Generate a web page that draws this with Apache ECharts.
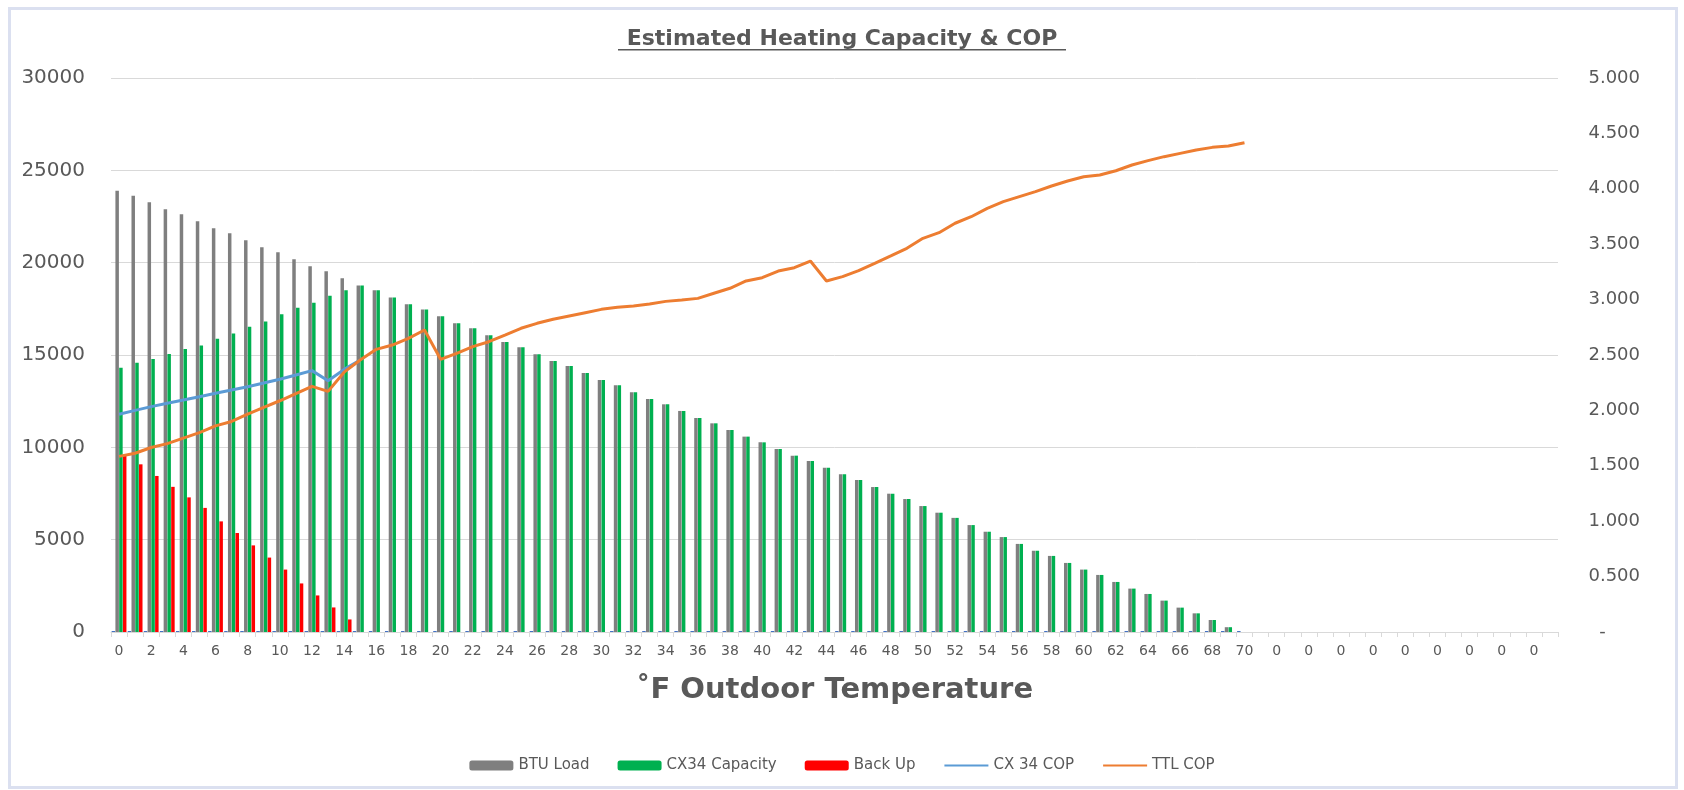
<!DOCTYPE html>
<html>
<head>
<meta charset="utf-8">
<script src="https://cdn.jsdelivr.net/npm/echarts@6/dist/echarts.min.js"></script>
<style>
  html, body { margin: 0; padding: 0; background: #fff; }
  #main { position: absolute; left: 0; top: 0; width: 1684px; height: 790px; }
  #frame { position: absolute; left: 8px; top: 7px; width: 1670px; height: 782px;
           box-sizing: border-box; border: 3px solid #dbe0f0; pointer-events: none; }
</style>
</head>
<body>
<div id="main"></div>
<div id="frame"></div>
<script>
  // temperature categories, the sheet pads the range with empty "0" rows
  var categories = ['0','1','2','3','4','5','6','7','8','9','10','11','12','13','14','15','16','17','18','19',
    '20','21','22','23','24','25','26','27','28','29','30','31','32','33','34','35','36','37','38','39',
    '40','41','42','43','44','45','46','47','48','49','50','51','52','53','54','55','56','57','58','59',
    '60','61','62','63','64','65','66','67','68','69','70',
    '0','0','0','0','0','0','0','0','0','0','0','0','0','0','0','0','0','0','0'];

  var btuLoad = [23900,23630,23270,22890,22620,22240,21860,21590,21210,20830,
    20560,20180,19800,19530,19150,18770,18500,18120,17750,17470,
    17100,16720,16450,16070,15700,15420,15040,14680,14400,14020,
    13650,13360,12980,12620,12330,11970,11590,11300,10940,10580,
    10270,9910,9550,9260,8900,8540,8230,7850,7490,7200,
    6820,6460,6180,5790,5430,5140,4770,4400,4120,3740,
    3380,3090,2710,2350,2060,1700,1320,1010,650,260,0];

  var cx34Capacity = [14310,14580,14780,15050,15320,15520,15880,16170,16530,16820,
    17200,17560,17830,18210,18500,18770,18500,18120,17750,17470,
    17100,16720,16450,16070,15700,15420,15040,14680,14400,14020,
    13650,13360,12980,12620,12330,11970,11590,11300,10940,10580,
    10270,9910,9550,9260,8900,8540,8230,7850,7490,7200,
    6820,6460,6180,5790,5430,5140,4770,4400,4120,3740,
    3380,3090,2710,2350,2060,1700,1320,1010,650,260,0];

  var backUp = [9590,9080,8450,7860,7290,6720,5990,5360,4690,4030,3380,2630,1980,1330,680];

  var cx34Cop = [1.965,2.000,2.034,2.064,2.094,2.124,2.154,2.184,2.214,2.248,
    2.281,2.320,2.359,2.268,2.370,2.455];

  var ttlCop = [1.585,1.613,1.665,1.700,1.750,1.800,1.860,1.900,1.966,2.027,
    2.087,2.151,2.217,2.172,2.345,2.455,2.551,2.590,2.650,2.726,
    2.461,2.515,2.575,2.620,2.680,2.741,2.786,2.822,2.852,2.882,
    2.912,2.930,2.942,2.960,2.984,2.996,3.011,3.057,3.102,3.168,
    3.198,3.258,3.288,3.348,3.168,3.207,3.261,3.327,3.394,3.463,
    3.553,3.604,3.689,3.748,3.824,3.884,3.929,3.974,4.025,4.070,
    4.109,4.124,4.163,4.215,4.254,4.290,4.320,4.350,4.374,4.386,4.416];

  var txt = '#595959';
  var font = 'DejaVu Sans';

  var myChart = echarts.init(document.getElementById('main'));
  var option = {
    animation: false,
    backgroundColor: '#fff',
    title: {
      text: 'Estimated Heating Capacity & COP',
      left: 'center',
      top: 23,
      textStyle: { fontFamily: font, fontSize: 22, fontWeight: 'bold', color: txt }
    },
    legend: {
      bottom: 12,
      left: 'center',
      itemWidth: 44,
      itemHeight: 10,
      itemGap: 28,
      data: [
        'BTU Load', 'CX34 Capacity', 'Back Up',
        { name: 'CX 34 COP', itemStyle: { opacity: 0 } },
        { name: 'TTL COP', itemStyle: { opacity: 0 } }
      ],
      textStyle: { fontFamily: font, fontSize: 15, color: txt }
    },
    grid: { left: 111, right: 126, top: 78, bottom: 158 },
    xAxis: {
      type: 'category',
      data: categories,
      name: '\u02DAF Outdoor Temperature',
      nameLocation: 'middle',
      nameGap: 44,
      nameTextStyle: { fontFamily: font, fontSize: 29, fontWeight: 'bold', color: txt },
      axisLine: { lineStyle: { color: '#d9d9d9' } },
      axisTick: { show: true, interval: 0, length: 5, lineStyle: { color: '#d9d9d9' } },
      axisLabel: { interval: 1, margin: 12, fontFamily: font, fontSize: 14, color: txt }
    },
    yAxis: [
      {
        type: 'value',
        min: 0, max: 30000, interval: 5000,
        axisLine: { show: false },
        axisTick: { show: false },
        splitLine: { lineStyle: { color: '#d9d9d9' } },
        axisLabel: {
          margin: 26, fontFamily: font, fontSize: 20, color: txt,
          formatter: function (v) { return String(v); }
        }
      },
      {
        type: 'value',
        min: 0, max: 5, interval: 0.5,
        axisLine: { show: false },
        axisTick: { show: false },
        splitLine: { show: false },
        axisLabel: {
          margin: 82, align: 'right', fontFamily: font, fontSize: 18, color: txt,
          formatter: function (v) { return v === 0 ? '-\u2007\u2007\u2007' : v.toFixed(3); }
        }
      }
    ],
    series: [
      {
        name: 'COP base', type: 'bar', data: ttlCop, barMinHeight: 1,
        barGap: '8%', barCategoryGap: '8%',
        itemStyle: { color: '#4472c4' }
      },
      { name: 'BTU Load', type: 'bar', data: btuLoad, itemStyle: { color: '#7f7f7f' } },
      { name: 'CX34 Capacity', type: 'bar', data: cx34Capacity, itemStyle: { color: '#00b050' } },
      { name: 'Back Up', type: 'bar', data: backUp, itemStyle: { color: '#ff0000' } },
      {
        name: 'CX 34 COP', type: 'line', yAxisIndex: 1, data: cx34Cop,
        symbol: 'none', lineStyle: { color: '#5b9bd5', width: 3 }, itemStyle: { color: '#5b9bd5' }
      },
      {
        name: 'TTL COP', type: 'line', yAxisIndex: 1, data: ttlCop,
        symbol: 'none', lineStyle: { color: '#ed7d31', width: 3 }, itemStyle: { color: '#ed7d31' }
      }
    ],
    graphic: [
      // underline of the title
      { type: 'rect', left: 'center', top: 49, shape: { width: 448, height: 1.5 }, style: { fill: txt } }
    ]
  };
  myChart.setOption(option);
</script>
</body>
</html>
